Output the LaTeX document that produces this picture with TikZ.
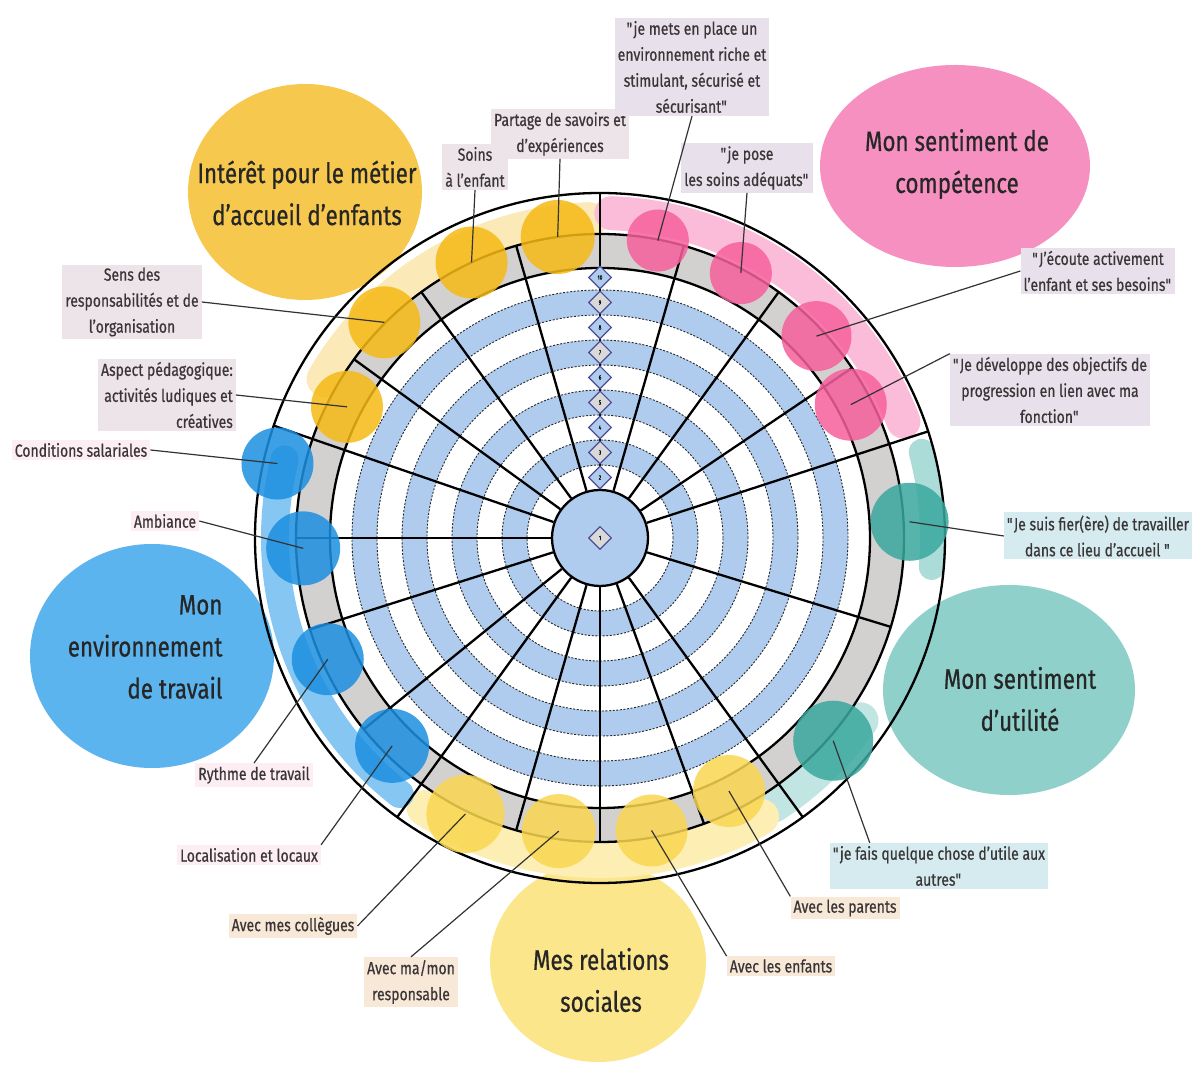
\documentclass[tikz,border=0pt]{standalone}
\usepackage{fontspec}
\setmainfont{Fira Sans}[FakeStretch=0.8, FakeBold=0.6]
\usetikzlibrary{shapes.geometric}

\definecolor{ringblue}{HTML}{AFCCEE}
\definecolor{bandgray}{HTML}{D3D0D0}
\definecolor{amber}{HTML}{F6B915}
\definecolor{rose}{HTML}{F7609C}
\definecolor{azure}{HTML}{1C8FE0}
\definecolor{lemon}{HTML}{FAD750}
\definecolor{lagoon}{HTML}{3AA89F}
\definecolor{amberpale}{HTML}{F7C84E}
\definecolor{rosepale}{HTML}{F690C0}
\definecolor{azurepale}{HTML}{5CB4EE}
\definecolor{lemonpale}{HTML}{FCE68C}
\definecolor{lagoonpale}{HTML}{8FD0CA}
\definecolor{inktext}{HTML}{3A3536}
\definecolor{tagamber}{HTML}{ECE4E9}
\definecolor{tagrose}{HTML}{E8E0EB}
\definecolor{tagazure}{HTML}{FCEEF3}
\definecolor{taglemon}{HTML}{F8E8D8}
\definecolor{taglagoon}{HTML}{D5EBEF}

\newcommand\qt{\textquotedbl}

\tikzset{
  spoke/.style={line width=2.3pt},
  rim/.style={line width=2.3pt},
  dotring/.style={line width=0.9pt, dash pattern=on 2pt off 1.6pt, black!85},
  smear/.style={line width=#1, line cap=round},
  dot/.style={circle, fill=#1, fill opacity=0.85, inner sep=0pt},
  tag/.style={fill=#1, text=inktext, inner sep=3pt, align=center, font=\fontsize{17.5}{26}\selectfont},
  leader/.style={line width=1.2pt, black!80},
  theme/.style={text=black!85, align=center, font=\fontsize{28}{42}\selectfont},
  level/.style={diamond, draw=black!60!blue!70, line width=1.1pt, fill=#1, minimum size=23pt, inner sep=0pt, font=\fontsize{6}{6}\selectfont}
}

\begin{document}
\begin{tikzpicture}[x=1pt,y=1pt]
\useasboundingbox (0,0) rectangle (1200,1072);
\fill[white] (0,0) rectangle (1200,1072);

\fill[amberpale] (305,880) ellipse[x radius=117, y radius=108];
\fill[rosepale] (955,906) ellipse[x radius=135, y radius=101];
\fill[azurepale] (152,416) ellipse[x radius=122, y radius=112];
\fill[lagoonpale] (1009,382) ellipse[x radius=126, y radius=105];
\fill[lemonpale] (598,110) ellipse[x radius=108, y radius=100];
\node[theme] (interet) at (307,879) {Intérêt pour le métier\\d’accueil d’enfants};
\node[theme] (competence) at (957,908) {Mon sentiment de\\compétence};
\node[theme, align=right, anchor=east] (environnement) at (226,425) {Mon\\environnement\\de travail};
\node[theme] (utilite) at (1020,373) {Mon sentiment\\d’utilité};
\node[theme] (relations) at (601,92) {Mes relations\\sociales};

\begin{scope}[shift={(600,534)}]
  \draw[smear=36pt, draw=amberpale!40] (150:318) arc[start angle=150, end angle=92, radius=318];
  \draw[smear=34pt, draw=rosepale!60] (88:325) arc[start angle=88, end angle=21, radius=325];
  \draw[smear=26pt, draw=lagoonpale!75] (15:333) arc[start angle=15, end angle=-5, radius=333];
  \draw[smear=36pt, draw=lagoonpale!55] (325:318) arc[start angle=325, end angle=303, radius=318];
  \draw[smear=36pt, draw=lemonpale!65] (300:322) arc[start angle=300, end angle=237, radius=322];
  \draw[smear=28pt, draw=azurepale!75] (232:325) arc[start angle=232, end angle=166, radius=325];

  \fill[bandgray, even odd rule] (0,0) circle[radius=304] (0,0) circle[radius=270];
  \foreach \r in {73,123,173,223}
    \fill[ringblue, even odd rule] (0,0) circle[radius=\r+25] (0,0) circle[radius=\r];
  \foreach \r in {73,98,...,248}
    \draw[dotring] (0,0) circle[radius=\r];
  \draw[rim] (0,0) circle[radius=270] (0,0) circle[radius=304] (0,0) circle[radius=345];
  \node[circle, draw, rim, fill=ringblue, minimum size=96pt, inner sep=0pt] (hub) at (0,0) {};

  \foreach \a in {34,54,74,106,126,144,180,197.5,219,254,270,290,343}
    \draw[spoke] (hub.\a) -- (\a:304);
  \foreach \a in {18,90,161,234,306}
    \draw[spoke] (hub.\a) -- (\a:345);

  \node[level=black!15] (lv1) at (0,0) {1};
  \foreach \k in {2,4,...,10}
    \node[level=ringblue] (lv\k) at (90:{48+(\k-1.5)*25}) {\k};
  \foreach \k in {3,5,...,9}
    \node[level=black!15] (lv\k) at (90:{48+(\k-1.5)*25}) {\k};

  \foreach \nm/\a/\r/\c/\s in {
      partage/98/304/amber/74, soins/115/304/amber/72, sens/135/305/amber/72, aspect/152.6/285/amber/72,
      conditions/167/331/azure/72, ambiance/182/297/azure/74, rythme/204/298/azure/72, localisation/225/294/azure/74,
      collegues/244/307/lemon/78, responsable/262/296/lemon/74, enfants/280/297/lemon/72, parents/297/284/lemon/72,
      utile/319/309/lagoon/80, fier/3/310/lagoon/78,
      developpe/28/284/rose/72, ecoute/43/296/rose/70, pose/62/300/rose/62, mets/79/303/rose/62}
    \node[dot=\c, minimum size=\s] (\nm) at (\a:\r) {};
\end{scope}

\node[tag=tagamber] (lpartage) at (560,938) {Partage de savoirs et\\d’expériences};
\node[tag=tagamber] (lsoins) at (475,905) {Soins\\à l’enfant};
\node[tag=tagamber] (lsens) at (132,770) {Sens des\\responsabilités et de\\l’organisation};
\node[tag=tagamber, align=right, anchor=east] (laspect) at (236,677) {Aspect pédagogique:\\activités ludiques et\\créatives};
\node[tag=tagazure] (lconditions) at (81,622) {Conditions salariales};
\node[tag=tagazure] (lambiance) at (165,551) {Ambiance};
\node[tag=tagazure] (lrythme) at (254,297) {Rythme de travail};
\node[tag=tagazure] (llocalisation) at (249,217) {Localisation et locaux};
\node[tag=taglemon] (lcollegues) at (293,146) {Avec mes collègues};
\node[tag=taglemon] (lresponsable) at (411,90) {Avec ma/mon\\responsable};
\node[tag=taglemon] (lenfants) at (781,106) {Avec les enfants};
\node[tag=taglemon] (lparents) at (845,164) {Avec les parents};
\node[tag=taglagoon] (lutile) at (939,206) {\qt je fais quelque chose d’utile aux\\autres\qt};
\node[tag=taglagoon] (lfier) at (1098,536) {\qt Je suis fier(ère) de travailler\\dans ce lieu d’accueil \qt};
\node[tag=tagrose] (ldeveloppe) at (1050,682) {\qt Je développe des objectifs de\\progression en lien avec ma\\fonction\qt};
\node[tag=tagrose] (lecoute) at (1098,801) {\qt J’écoute activement\\l’enfant et ses besoins\qt};
\node[tag=tagrose] (lpose) at (747,904) {\qt je pose\\les soins adéquats\qt};
\node[tag=tagrose] (lmets) at (692,1005) {\qt je mets en place un\\environnement riche et\\stimulant, sécurisé et\\sécurisant\qt};

\draw[leader] (lpartage.south) -- (partage.center);
\draw[leader] (lsoins.south) -- (soins.center);
\draw[leader] (lsens.east) -- (sens.center);
\draw[leader] (laspect.east) -- (aspect.center);
\draw[leader] (lconditions.east) -- (conditions.center);
\draw[leader] (lambiance.east) -- (ambiance.center);
\draw[leader] (lrythme.north) -- (rythme.center);
\draw[leader] (llocalisation.north east) -- (localisation.center);
\draw[leader] (lcollegues.east) -- (collegues.center);
\draw[leader] (lresponsable.north) -- (responsable.center);
\draw[leader] (lenfants.north west) -- (enfants.center);
\draw[leader] (lparents.north west) -- (parents.center);
\draw[leader] ([xshift=40pt]lutile.north west) -- (utile.center);
\draw[leader] (lfier.west) -- (fier.center);
\draw[leader] (ldeveloppe.north west) -- (developpe.center);
\draw[leader] (lecoute.west) -- (ecoute.center);
\draw[leader] (lpose.south) -- (pose.center);
\draw[leader] (lmets.south) -- (mets.center);
\end{tikzpicture}
\end{document}
